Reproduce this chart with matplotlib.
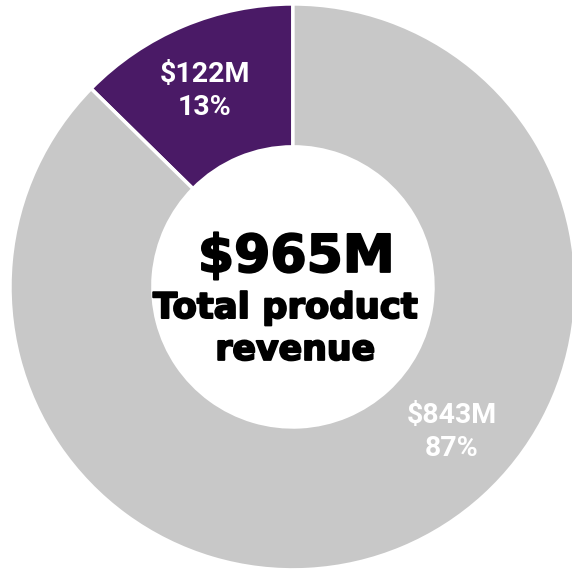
import matplotlib.pyplot as plt
import matplotlib.patheffects as pe

labels = ["$122M", "$843M"]
values = [122, 843]
shares = ["13%", "87%"]
total_label = "$965M"
caption_lines = ["Total product", "revenue"]
colors = ["#4a1a66", "#c8c8c8"]

fig = plt.figure(figsize=(5.72, 5.71), dpi=100)
ax = fig.add_axes([0, 0, 1, 1])

ax.pie(values, colors=colors, startangle=90, counterclock=True, radius=1,
       wedgeprops=dict(width=0.505, edgecolor="white", linewidth=2.5))

ax.set_xlim(-1.035, 0.986)
ax.set_ylim(-1.004, 1.014)
ax.set_aspect("equal")
ax.axis("off")

label_pos = [(-0.311, 0.693), (0.562, -0.512)]
for (x, y), lab, sh in zip(label_pos, labels, shares):
    ax.text(x, y, lab + "\n" + sh, ha="center", va="center", color="white",
            fontsize=20.5, fontweight="bold", family="Roboto", linespacing=1.3)

heavy = [pe.withStroke(linewidth=1.4, foreground="black")]
ax.text(0.012, 0.053, total_label, ha="center", va="baseline", color="black",
        fontsize=37.5, fontweight="bold", family="DejaVu Sans", path_effects=heavy)
ax.text(-0.027, -0.110, caption_lines[0], ha="center", va="baseline",
        color="black", fontsize=25.5, fontweight="bold", family="DejaVu Sans",
        path_effects=heavy)
ax.text(0.008, -0.258, caption_lines[1], ha="center", va="baseline",
        color="black", fontsize=25, fontweight="bold", family="DejaVu Sans",
        path_effects=heavy)

fig.savefig("out.png", dpi=100)
